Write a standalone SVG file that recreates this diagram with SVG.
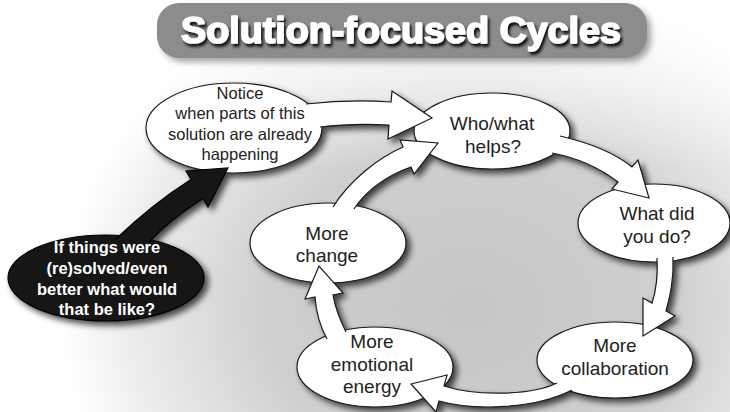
<svg xmlns="http://www.w3.org/2000/svg" xmlns:xlink="http://www.w3.org/1999/xlink" width="730" height="412" viewBox="0 0 730 412">
  <defs>
    <radialGradient id="bg" gradientUnits="userSpaceOnUse" cx="470" cy="310" r="340" gradientTransform="translate(470 310) scale(1.2 1) translate(-470 -310)">
      <stop offset="0" stop-color="#c6c6c6"/>
      <stop offset="0.5" stop-color="#cfcfcf"/>
      <stop offset="0.85" stop-color="#eeeeee"/>
      <stop offset="1" stop-color="#ffffff"/>
    </radialGradient>
    <linearGradient id="topFade" x1="0" y1="0" x2="0" y2="1">
      <stop offset="0" stop-color="#ffffff" stop-opacity="0.9"/>
      <stop offset="1" stop-color="#ffffff" stop-opacity="0"/>
    </linearGradient>
    <!-- soft black drop shadow, shadow only -->
    <filter id="shade" x="-10%" y="-10%" width="130%" height="130%">
      <feGaussianBlur in="SourceAlpha" stdDeviation="3"/>
      <feOffset dx="4" dy="4"/>
      <feComponentTransfer><feFuncA type="linear" slope="0.7"/></feComponentTransfer>
    </filter>
    <filter id="textShade" x="-5%" y="-20%" width="110%" height="150%">
      <feGaussianBlur in="SourceAlpha" stdDeviation="1.6"/>
      <feOffset dx="2" dy="3"/>
      <feComponentTransfer><feFuncA type="linear" slope="0.9"/></feComponentTransfer>
      <feMerge><feMergeNode/><feMergeNode in="SourceGraphic"/></feMerge>
    </filter>
    <style>
      .bubble { fill: #ffffff; stroke: #1a1a1a; stroke-width: 1.2; }
      .dark { fill: #161616; stroke: #000000; stroke-width: 1.2; }
      .arrow { fill: #ffffff; stroke: #1a1a1a; stroke-width: 1.2; stroke-linejoin: miter; }
      .arrow-dark { fill: #161616; stroke: #000000; stroke-width: 1.2; }
      .label { font-family: "Liberation Sans", Arial, sans-serif; font-size: 19px; fill: #222222; text-anchor: middle; }
      .small { font-size: 16.5px; }
      .bold { font-family: "Liberation Sans", Arial, sans-serif; font-size: 16.5px; font-weight: bold; fill: #ffffff; text-anchor: middle; }
      .title { font-family: "Liberation Sans", Arial, sans-serif; font-size: 36px; font-weight: bold; fill: #ffffff; stroke: #ffffff; stroke-width: 1.6; stroke-linejoin: round; text-anchor: middle; }
    </style>
  </defs>

  <!-- backdrop -->
  <rect width="730" height="412" fill="url(#bg)"/>
  <rect width="730" height="170" fill="url(#topFade)"/>

  <!-- heading -->
  <g id="title">
    <rect x="157" y="3" width="490" height="55" rx="22" fill="#000" filter="url(#shade)" opacity="0.5"/>
    <rect x="157" y="3" width="490" height="55" rx="22" fill="#8c8c8c"/>
    <text class="title" x="401" y="43" textLength="440" lengthAdjust="spacingAndGlyphs" filter="url(#textShade)">Solution-focused Cycles</text>
  </g>

  <!-- shadows of all nodes and connectors -->
  <g id="shadows" filter="url(#shade)">
    <use xlink:href="#nodes"/>
    <use xlink:href="#connectors"/>
  </g>

  <g id="nodes">
    <g id="node-notice">
      <ellipse class="bubble" cx="234" cy="128" rx="88" ry="45"/>
      <text class="label small" x="240" y="99">Notice</text>
      <text class="label small" x="240" y="119">when parts of this</text>
      <text class="label small" x="240" y="140">solution are already</text>
      <text class="label small" x="240" y="160">happening</text>
    </g>
    <g id="node-helps">
      <ellipse class="bubble" cx="492" cy="131" rx="78" ry="38"/>
      <text class="label" x="492" y="130">Who/what</text>
      <text class="label" x="493" y="153">helps?</text>
    </g>
    <g id="node-did">
      <ellipse class="bubble" cx="654" cy="223" rx="76" ry="39"/>
      <text class="label" x="657" y="220">What did</text>
      <text class="label" x="657" y="243">you do?</text>
    </g>
    <g id="node-collaboration">
      <ellipse class="bubble" cx="615" cy="360" rx="78" ry="38"/>
      <text class="label" x="615" y="352">More</text>
      <text class="label" x="615" y="375">collaboration</text>
    </g>
    <g id="node-energy">
      <ellipse class="bubble" cx="375" cy="367" rx="78" ry="40"/>
      <text class="label" x="372" y="348">More</text>
      <text class="label" x="372" y="371">emotional</text>
      <text class="label" x="372" y="393">energy</text>
    </g>
    <g id="node-change">
      <ellipse class="bubble" cx="328" cy="243" rx="78" ry="40"/>
      <text class="label" x="327" y="240">More</text>
      <text class="label" x="327" y="262">change</text>
    </g>
    <g id="node-question">
      <ellipse class="dark" cx="106" cy="278" rx="98" ry="43"/>
      <text class="bold" x="107" y="253">If things were</text>
      <text class="bold" x="107" y="274">(re)solved/even</text>
      <text class="bold" x="107" y="295">better what would</text>
      <text class="bold" x="107" y="315">that be like?</text>
    </g>
  </g>

  <!-- block arrows; open paths so the tail edge inside the source bubble stays unstroked -->
  <g id="connectors">
    <path id="arrow-notice-helps" class="arrow" d="M 306,104 Q 350,99 391,102 L 392,91 L 432,118 L 388,139 L 389,125 Q 352,123 320,127"/>
    <path id="arrow-helps-did" class="arrow" d="M 560,136 C 590,143 615,153 632,167 L 638,160 L 649,198 L 612,189 L 618,182 C 600,168 578,158 552,153"/>
    <path id="arrow-did-collaboration" class="arrow" d="M 657,258 C 658,276 656,291 652,303 L 643,298 L 643,336 L 675,316 L 666,311 C 670,296 674,280 673,257"/>
    <path id="arrow-collaboration-energy" class="arrow" d="M 557,383 C 530,396 475,396 444,386 L 447,375 L 411,384 L 436,412 L 439,401 C 475,411 535,409 572,390"/>
    <path id="arrow-energy-change" class="arrow" d="M 346,332 C 340,320 335,307 333,295 L 343,293 L 319,266 L 305,299 L 315,297 C 316,312 320,326 327,339"/>
    <path id="arrow-change-helps" class="arrow" d="M 333,207 C 350,180 378,158 403,147 L 400,140 L 438,143 L 414,174 L 411,167 C 388,175 366,190 354,209"/>
    <path id="arrow-question-notice" class="arrow-dark" d="M 116,239 C 142,214 168,194 191,179.5 L 186,171 L 228,168 L 208,207 L 203,198.5 C 182,212 165,225 149,242"/>
  </g>
</svg>
